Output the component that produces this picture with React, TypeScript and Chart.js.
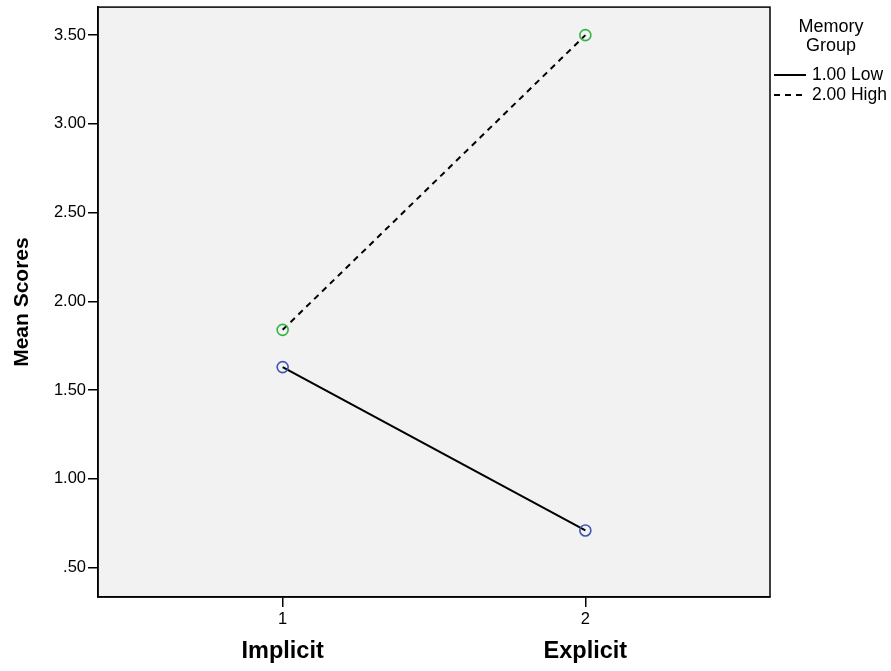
import React, { useEffect, useRef } from "react";
import { Chart, registerables } from "chart.js";

Chart.register(...registerables);

const categories = ["Implicit", "Explicit"];
const categoryPositions = [1, 2];
const lowScores = [1.63, 0.71];
const highScores = [1.84, 3.5];
const yTickValues = [0.5, 1.0, 1.5, 2.0, 2.5, 3.0, 3.5];
const legendTitle = ["Memory", "Group"];
const seriesNames = ["1.00 Low", "2.00 High"];
const yAxisTitle = "Mean Scores";

const FONT = "'Liberation Sans', Arial, Helvetica, sans-serif";

const framePlugin = {
  id: "framePlugin",
  beforeDraw(chart: any) {
    const { ctx, chartArea } = chart;
    ctx.save();
    ctx.fillStyle = "#ffffff";
    ctx.fillRect(0, 0, chart.width, chart.height);
    ctx.fillStyle = "#f2f2f2";
    ctx.fillRect(chartArea.left, chartArea.top, chartArea.right - chartArea.left, chartArea.bottom - chartArea.top);
    ctx.restore();
  },
  afterDraw(chart: any) {
    const { ctx, chartArea, scales } = chart;
    ctx.save();
    ctx.strokeStyle = "#000000";
    ctx.lineWidth = 1.5;
    ctx.strokeRect(chartArea.left, chartArea.top, chartArea.right - chartArea.left, chartArea.bottom - chartArea.top);

    // category labels
    ctx.fillStyle = "#000000";
    ctx.font = `bold 23.5px ${FONT}`;
    ctx.textAlign = "center";
    ctx.textBaseline = "middle";
    categories.forEach((c, i) => {
      const x = scales.x.getPixelForValue(categoryPositions[i]);
      ctx.fillText(c, x, 652);
    });

    // y title
    ctx.save();
    ctx.translate(22, (chartArea.top + chartArea.bottom) / 2);
    ctx.rotate(-Math.PI / 2);
    ctx.font = `bold 21px ${FONT}`;
    ctx.fillText(yAxisTitle, 0, 0);
    ctx.restore();

    // legend
    const cx = 831;
    ctx.font = `18px ${FONT}`;
    ctx.textAlign = "center";
    ctx.fillText(legendTitle[0], cx, 27);
    ctx.fillText(legendTitle[1], cx, 46);
    ctx.font = `17.5px ${FONT}`;
    ctx.textAlign = "left";
    const ys = [75, 95];
    chart.data.datasets.forEach((ds: any, i: number) => {
      ctx.beginPath();
      ctx.setLineDash(ds.borderDash || []);
      ctx.lineWidth = 2;
      ctx.strokeStyle = "#000000";
      ctx.moveTo(774, ys[i]);
      ctx.lineTo(806, ys[i]);
      ctx.stroke();
      ctx.setLineDash([]);
      ctx.fillText(seriesNames[i], 812, ys[i]);
    });
    ctx.restore();
  },
};

export default function App() {
  const ref = useRef<HTMLCanvasElement | null>(null);
  useEffect(() => {
    if (!ref.current) return;
    const chart = new Chart(ref.current, {
      type: "line",
      data: {
        datasets: [
          {
            label: seriesNames[0],
            data: categoryPositions.map((x, i) => ({ x, y: lowScores[i] })),
            borderColor: "#000000",
            borderWidth: 2,
            pointRadius: 5.5,
            pointBorderColor: "#3d56b5",
            pointBackgroundColor: "rgba(0,0,0,0)",
            pointBorderWidth: 1.6,
          },
          {
            label: seriesNames[1],
            data: categoryPositions.map((x, i) => ({ x, y: highScores[i] })),
            borderColor: "#000000",
            borderWidth: 2,
            borderDash: [6, 5],
            pointRadius: 5.5,
            pointBorderColor: "#34b545",
            pointBackgroundColor: "rgba(0,0,0,0)",
            pointBorderWidth: 1.6,
          },
        ],
      },
      options: {
        animation: false,
        responsive: false,
        devicePixelRatio: 1,
        layout: { padding: { left: 0, right: 121, top: 7, bottom: 0 } },
        plugins: { legend: { display: false }, tooltip: { enabled: false }, title: { display: false } },
        scales: {
          x: {
            type: "linear",
            min: 0.39,
            max: 2.61,
            afterBuildTicks: (scale: any) => {
              scale.ticks = categoryPositions.map((v) => ({ value: v }));
            },
            afterFit: (scale: any) => {
              scale.height = 74;
              scale.paddingLeft = 0;
              scale.paddingRight = 0;
            },
            ticks: {
              color: "#000000",
              font: { family: FONT, size: 16.5 },
              padding: 3,
              maxRotation: 0,
              callback: (v: any) => String(v),
            },
            grid: { drawOnChartArea: false, drawTicks: true, tickLength: 10, color: "#000000", lineWidth: 1.5 },
            border: { display: true, color: "#000000", width: 1.5 },
          },
          y: {
            type: "linear",
            min: 0.335,
            max: 3.658,
            afterBuildTicks: (scale: any) => {
              scale.ticks = yTickValues.map((v) => ({ value: v }));
            },
            afterFit: (scale: any) => {
              scale.width = 98;
              scale.paddingTop = 0;
              scale.paddingBottom = 0;
            },
            ticks: {
              color: "#000000",
              font: { family: FONT, size: 16.5 },
              padding: 2,
              callback: (v: any) => Number(v).toFixed(2).replace(/^0/, ""),
            },
            grid: { drawOnChartArea: false, drawTicks: true, tickLength: 10, color: "#000000", lineWidth: 1.5 },
            border: { display: true, color: "#000000", width: 1.5 },
          },
        },
      },
      plugins: [framePlugin],
    } as any);
    return () => chart.destroy();
  }, []);
  return (
    <div style={{ position: "absolute", left: 0, top: 0, width: 891, height: 671 }}>
      <canvas ref={ref} width={891} height={671} style={{ width: 891, height: 671, display: "block" }} />
    </div>
  );
}
